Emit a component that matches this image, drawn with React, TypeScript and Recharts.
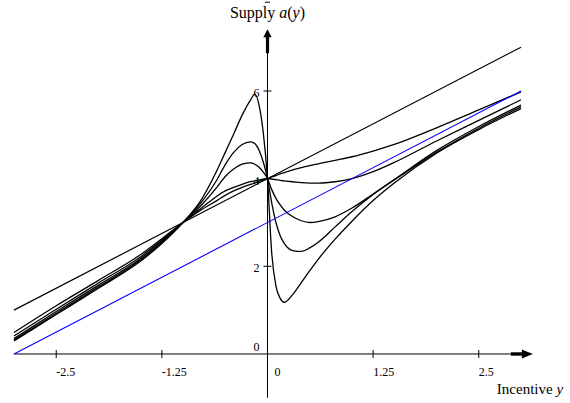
import { LineChart, Line, XAxis, YAxis, ReferenceLine, ReferenceDot } from 'recharts';

// incentive grid (x) and supply curves
const incentive = [
  -3, -2.5, -2, -1.5, -1.25, -1, -0.8, -0.6, -0.5, -0.4, -0.3, -0.2, -0.15, -0.1, -0.05, 0,
  0.05, 0.1, 0.15, 0.2, 0.3, 0.4, 0.5, 0.6, 0.8, 1, 1.25, 1.5, 2, 2.5, 3,
];

const curveA = [
  0.3, 0.9, 1.5, 2.12, 2.52, 3.0, 3.47, 4.18, 4.6, 5.02, 5.45, 5.8, 5.93, 5.68, 5.05, 4.0,
  2.3, 1.55, 1.27, 1.18, 1.36, 1.63, 1.9, 2.16, 2.62, 3.03, 3.5, 3.9, 4.58, 5.12, 5.6,
];
const curveB = [
  0.32, 0.93, 1.53, 2.15, 2.55, 3.0, 3.42, 3.97, 4.32, 4.6, 4.78, 4.84, 4.8, 4.65, 4.38, 4.0,
  3.45, 3.0, 2.7, 2.52, 2.36, 2.34, 2.42, 2.55, 2.9, 3.25, 3.64, 3.97, 4.6, 5.15, 5.64,
];
const curveC = [
  0.35, 0.97, 1.57, 2.18, 2.58, 3.0, 3.36, 3.8, 4.05, 4.22, 4.33, 4.36, 4.33, 4.26, 4.15, 4.0,
  3.75, 3.55, 3.4, 3.28, 3.13, 3.04, 3.0, 3.02, 3.13, 3.33, 3.65, 3.98, 4.64, 5.19, 5.68,
];
const curveD = [
  0.41, 1.02, 1.62, 2.22, 2.6, 3.0, 3.3, 3.6, 3.72, 3.8, 3.87, 3.93, 3.95, 3.97, 3.99, 4.0,
  3.99, 3.98, 3.96, 3.95, 3.93, 3.91, 3.9, 3.9, 3.93, 4.0, 4.16, 4.37, 4.86, 5.33, 5.8,
];
const curveE = [
  0.49, 1.1, 1.68, 2.27, 2.63, 3.0, 3.27, 3.5, 3.62, 3.72, 3.8, 3.87, 3.9, 3.94, 3.97, 4.0,
  4.04, 4.07, 4.11, 4.14, 4.2, 4.25, 4.3, 4.34, 4.42, 4.5, 4.63, 4.78, 5.16, 5.57, 5.98,
];

// straight lines: endpoints
const lineEnds = [-3, 3];
const upperLine = [1, 7];
const blueLine = [0, 6];

const xTicks = [-2.5, -1.25, 0, 1.25, 2.5];
const xTickLabels = ['-2.5', '-1.25', '0', '1.25', '2.5'];
const yTicks = [0, 2, 4, 6];
const yTickLabels = ['0', '2', '4', '6'];

const toPoints = (xs: number[], ys: number[]) => xs.map((x, i) => ({ x, y: ys[i] }));

const FONT = '"Liberation Serif", "Times New Roman", serif';
const INK = '#000000';

const blackCurves = [curveA, curveB, curveC, curveD, curveE];

export default function App() {
  return (
    <div style={{ position: 'absolute', left: 0, top: 0, background: '#fff' }}>
      <LineChart
        width={570}
        height={403}
        margin={{ top: 18.7, right: 2.5, bottom: 3, left: 1.3 }}
        style={{ fontFamily: FONT }}
      >
        <XAxis type="number" dataKey="x" domain={[-3.15, 3.55]} allowDataOverflow hide />
        <YAxis type="number" dataKey="y" domain={[-1.05, 7.65]} allowDataOverflow hide />

        {/* axes through the origin */}
        <ReferenceLine segment={[{ x: -3, y: 0 }, { x: 2.9, y: 0 }]} stroke={INK} strokeWidth={1} />
        <ReferenceLine segment={[{ x: 0, y: -1 }, { x: 0, y: 6.9 }]} stroke={INK} strokeWidth={1} />

        <ReferenceDot
          x={3.14}
          y={0}
          r={0}
          shape={(p: any) => (
            <g>
              <rect x={p.cx - 22} y={p.cy - 1.7} width={12} height={3.4} fill={INK} />
              <path d={`M${p.cx},${p.cy} L${p.cx - 11},${p.cy - 4.5} L${p.cx - 11},${p.cy + 4.5} Z`} fill={INK} />
              <text x={p.cx - 36} y={p.cy + 40} fontSize={15} fontFamily={FONT} fill={INK}>
                Incentive <tspan fontStyle="italic">y</tspan>
              </text>
            </g>
          )}
        />
        <ReferenceDot
          x={0}
          y={7.41}
          r={0}
          shape={(p: any) => (
            <g>
              <rect x={p.cx - 1.6} y={p.cy + 7} width={3.2} height={17} fill={INK} />
              <path d={`M${p.cx},${p.cy} L${p.cx - 4.2},${p.cy + 8} L${p.cx + 4.2},${p.cy + 8} Z`} fill={INK} />
              <line x1={p.cx - 2.5} y1={p.cy - 27} x2={p.cx + 2.5} y2={p.cy - 27} stroke={INK} strokeWidth={1} />
              <text x={p.cx} y={p.cy - 11} fontSize={16} fontFamily={FONT} fill={INK} textAnchor="middle">
                Supply <tspan fontStyle="italic">a</tspan>(<tspan fontStyle="italic">y</tspan>)
              </text>
            </g>
          )}
        />

        {xTicks.map((t, i) => (
          <ReferenceDot
            key={`xt${i}`}
            x={t}
            y={0}
            r={0}
            shape={(p: any) => (
              <g>
                <line x1={p.cx} y1={p.cy - 4} x2={p.cx} y2={p.cy + 4} stroke={INK} strokeWidth={1} />
                <text x={p.cx + (t === 0 ? 7 : 0)} y={p.cy + 22} fontSize={12} fontFamily={FONT} fill={INK}>
                  {xTickLabels[i]}
                </text>
              </g>
            )}
          />
        ))}
        {yTicks.map((t, i) => (
          <ReferenceDot
            key={`yt${i}`}
            x={0}
            y={t}
            r={0}
            shape={(p: any) => (
              <g>
                {t !== 0 && <line x1={p.cx - 4} y1={p.cy} x2={p.cx + 4} y2={p.cy} stroke={INK} strokeWidth={1} />}
                <text
                  x={p.cx - 8}
                  y={t === 0 ? p.cy - 3 : p.cy + 6}
                  fontSize={12}
                  fontFamily={FONT}
                  fill={INK}
                  textAnchor="end"
                >
                  {yTickLabels[i]}
                </text>
              </g>
            )}
          />
        ))}

        <Line
          data={toPoints(lineEnds, upperLine)}
          dataKey="y"
          type="linear"
          stroke={INK}
          strokeWidth={1.2}
          dot={false}
          isAnimationActive={false}
        />
        {blackCurves.map((c, i) => (
          <Line
            key={`c${i}`}
            data={toPoints(incentive, c)}
            dataKey="y"
            type="monotone"
            stroke={INK}
            strokeWidth={1.3}
            dot={false}
            isAnimationActive={false}
          />
        ))}
        <Line
          data={toPoints(lineEnds, blueLine)}
          dataKey="y"
          type="linear"
          stroke="#0000ff"
          strokeWidth={1.1}
          dot={false}
          isAnimationActive={false}
        />
      </LineChart>
    </div>
  );
}
